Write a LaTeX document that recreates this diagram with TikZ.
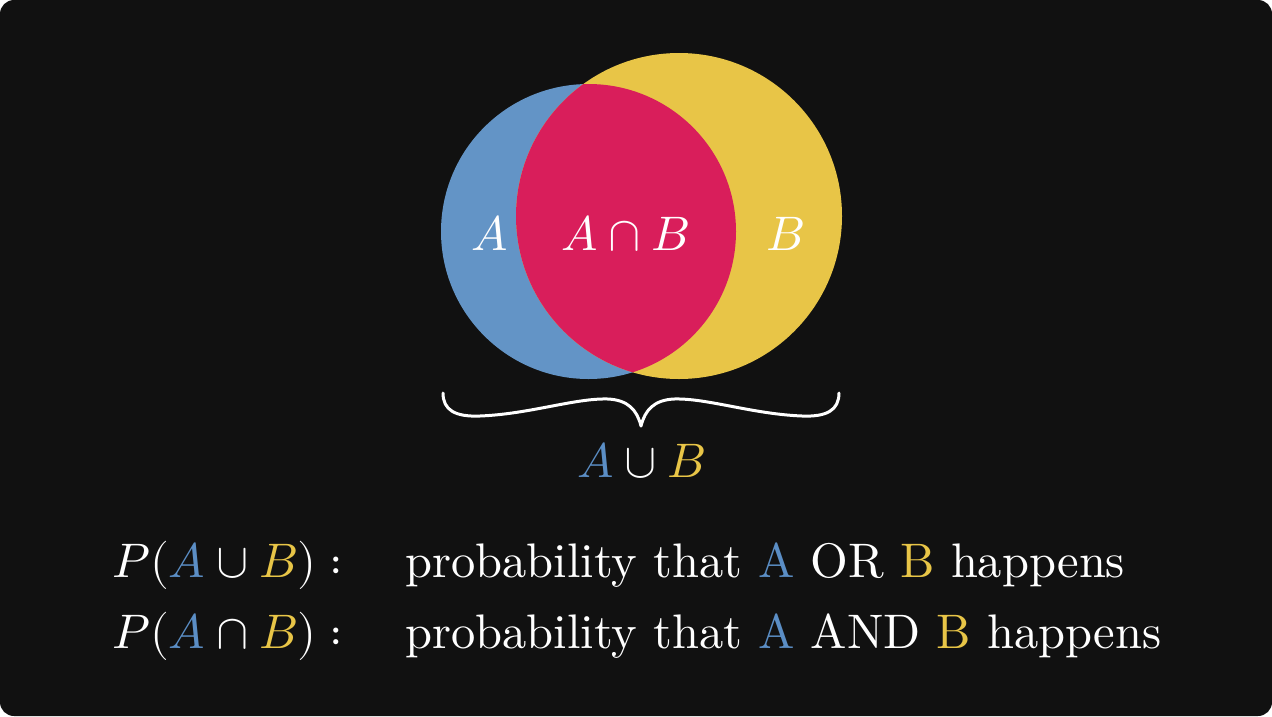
\documentclass[tikz,border=0pt]{standalone}
\usepackage{fontspec}
\usepackage{unicode-math}
\setmainfont{lmroman10-regular.otf}[ItalicFont=lmroman10-italic.otf, BoldFont=lmroman10-bold.otf]
\setmathfont{Latin Modern Math}
\definecolor{bg}{HTML}{111111}
\definecolor{cblue}{HTML}{6394C6}
\definecolor{tblue}{HTML}{5B8EC5}
\definecolor{cred}{HTML}{D91E5B}
\definecolor{cyel}{HTML}{E8C547}
\tikzset{
  lbl/.style={text=white, inner sep=0pt, font=\fontsize{48.5}{58}\selectfont},
  txt/.style={text=white, inner sep=0pt, font=\fontsize{48.5}{58}\selectfont},
}
\begin{document}
\begin{tikzpicture}[x=1pt,y=-1pt]
\useasboundingbox (0,0) rectangle (1272,716);
\fill[white] (0,0) rectangle (1272,716);
\fill[bg, rounded corners=14pt] (0,0) rectangle (1272,716);
% circles
\coordinate (ca) at (588.5,231.5);
\coordinate (cb) at (679,216);
\fill[cblue] (ca) circle[radius=147.5pt];
\fill[cyel] (cb) circle[radius=163pt];
\begin{scope}
  \clip (ca) circle[radius=147.5pt];
  \fill[cred] (cb) circle[radius=163pt];
\end{scope}
% labels inside
\node[lbl, anchor=base] (la) at (490,250) {$A$};
\node[lbl, anchor=base] (lab) at (625.5,250) {$A\cap B$};
\node[lbl, anchor=base] (lb) at (786,250) {$B$};
% brace
\draw[white, line width=3pt, line cap=round, line join=round]
  (443,393) .. controls (443,410) and (455,417) .. (480,416)
  .. controls (530,414) and (575,398) .. (608,399)
  .. controls (628,400) and (637,410) .. (641,426)
  .. controls (645,410) and (654,400) .. (674,399)
  .. controls (707,398) and (752,414) .. (802,416)
  .. controls (827,417) and (839,410) .. (839,393);
\node[lbl, anchor=base] (union) at (641.5,477) {$\textcolor{tblue}{A}\cup\textcolor{cyel}{B}$};
% bottom lines
\node[lbl, anchor=base west] (p1) at (112,577) {$P(\textcolor{tblue}{A}\cup\textcolor{cyel}{B}):$};
\node[txt, anchor=base west] (t1) at (405,577) {probability that \textcolor{tblue}{A} OR \textcolor{cyel}{B} happens};
\node[lbl, anchor=base west] (p2) at (112,648) {$P(\textcolor{tblue}{A}\cap\textcolor{cyel}{B}):$};
\node[txt, anchor=base west] (t2) at (405,648) {probability that \textcolor{tblue}{A} AND \textcolor{cyel}{B} happens};
\end{tikzpicture}
\end{document}
